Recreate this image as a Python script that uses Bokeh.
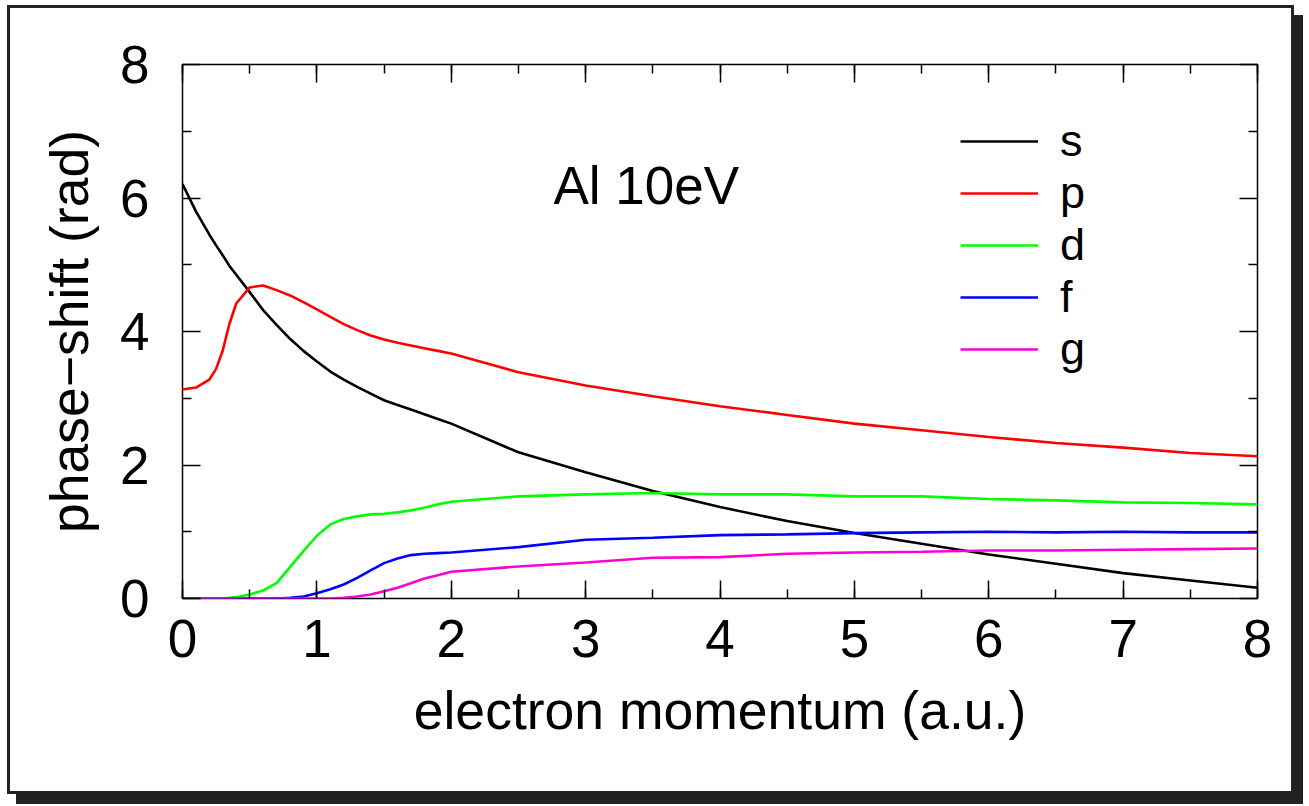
from bokeh.plotting import figure
from bokeh.models import LinearAxis, Legend, LegendItem, Label, Range1d, FixedTicker
from bokeh.embed import file_html
from bokeh.resources import INLINE

# momentum grid (a.u.)
k = [0.0, 0.1, 0.2, 0.25, 0.3, 0.35, 0.4, 0.5, 0.6, 0.7, 0.8, 0.9, 1.0, 1.1, 1.2, 1.3, 1.4,
     1.5, 1.6, 1.7, 1.8, 1.9, 2.0, 2.5, 3.0, 3.5, 4.0, 4.5, 5.0, 5.5, 6.0, 6.5, 7.0, 7.5, 8.0]

s_phase = [6.21, 5.80, 5.45, 5.29, 5.14, 4.98, 4.85, 4.59, 4.32, 4.10, 3.89, 3.71, 3.55, 3.40, 3.28, 3.17, 3.07,
           2.97, 2.90, 2.83, 2.76, 2.69, 2.62, 2.19, 1.89, 1.61, 1.37, 1.16, 0.98, 0.82, 0.66, 0.52, 0.38, 0.27, 0.16]
p_phase = [3.13, 3.16, 3.28, 3.44, 3.72, 4.12, 4.42, 4.66, 4.69, 4.62, 4.54, 4.44, 4.33, 4.22, 4.11, 4.02, 3.94,
           3.88, 3.83, 3.79, 3.75, 3.71, 3.67, 3.39, 3.19, 3.03, 2.88, 2.75, 2.62, 2.52, 2.42, 2.33, 2.26, 2.18, 2.13]
d_phase = [0.0, 0.0, 0.0, 0.0, 0.0, 0.01, 0.02, 0.06, 0.12, 0.23, 0.47, 0.71, 0.94, 1.11, 1.19, 1.23, 1.26,
           1.27, 1.29, 1.32, 1.36, 1.41, 1.45, 1.53, 1.56, 1.58, 1.56, 1.56, 1.53, 1.53, 1.49, 1.47, 1.44, 1.43, 1.41]
f_phase = [0.0, 0.0, 0.0, 0.0, 0.0, 0.0, 0.0, 0.0, 0.0, 0.0, 0.01, 0.03, 0.08, 0.14, 0.21, 0.31, 0.42,
           0.53, 0.60, 0.65, 0.67, 0.68, 0.69, 0.77, 0.88, 0.91, 0.95, 0.96, 0.98, 0.99, 1.00, 0.99, 1.00, 0.99, 0.99]
g_phase = [0.0, 0.0, 0.0, 0.0, 0.0, 0.0, 0.0, 0.0, 0.0, 0.0, 0.0, 0.0, 0.0, 0.0, 0.01, 0.03, 0.06,
           0.11, 0.16, 0.23, 0.30, 0.35, 0.40, 0.48, 0.54, 0.61, 0.62, 0.67, 0.69, 0.70, 0.72, 0.72, 0.73, 0.74, 0.75]

series_names = ["s", "p", "d", "f", "g"]
series_values = [s_phase, p_phase, d_phase, f_phase, g_phase]
series_colors = ["#000000", "#ff0000", "#00ff00", "#0000ff", "#ff00d4"]

x_ticks = [0, 1, 2, 3, 4, 5, 6, 7, 8]
x_minor = [0.5 * i for i in range(17)]
y_ticks = [0, 2, 4, 6, 8]
y_minor = [1, 3, 5, 7]

x_title = "electron momentum (a.u.)"
y_title = "phase\u2212shift (rad)"
annotation = "Al 10eV"

FONT = "Liberation Sans"

p = figure(width=1287, height=789, output_backend="svg", toolbar_location=None,
           x_range=Range1d(0, 8), y_range=Range1d(0, 8),
           min_border_left=172, min_border_right=40, min_border_top=56, min_border_bottom=199,
           x_axis_label=x_title, y_axis_label=y_title)
p.styles = {"border": "3px solid #222222", "box-shadow": "9px 10px 0px #222222",
            "margin-left": "7px", "margin-top": "5px"}
p.grid.visible = False
p.background_fill_color = "white"
p.border_fill_color = "white"
p.outline_line_color = "black"
p.outline_line_width = 1.5

def style_axis(ax, show_labels):
    ax.major_tick_in = 18
    ax.major_tick_out = 0
    ax.minor_tick_in = 9
    ax.minor_tick_out = 0
    ax.major_tick_line_width = 1.5
    ax.minor_tick_line_width = 1.5
    ax.axis_line_color = None
    ax.major_label_text_font = FONT
    ax.axis_label_text_font = FONT
    ax.axis_label_text_font_style = "normal"
    ax.major_label_text_font_size = "53px"
    ax.axis_label_text_font_size = "53.5px"
    ax.major_label_text_color = "black" if show_labels else None
    ax.axis_label_text_color = "black"

p.xaxis.ticker = FixedTicker(ticks=x_ticks, minor_ticks=x_minor)
p.yaxis.ticker = FixedTicker(ticks=y_ticks, minor_ticks=y_minor)
style_axis(p.xaxis[0], True)
style_axis(p.yaxis[0], True)
p.xaxis.major_label_standoff = 21
p.xaxis.axis_label_standoff = 21
p.yaxis.major_label_standoff = 33
p.yaxis.axis_label_standoff = 18

top = LinearAxis(ticker=FixedTicker(ticks=x_ticks, minor_ticks=x_minor))
right = LinearAxis(ticker=FixedTicker(ticks=y_ticks, minor_ticks=y_minor))
for ax in (top, right):
    style_axis(ax, False)
    ax.major_label_text_font_size = "0px"
    ax.major_label_standoff = 0
p.add_layout(top, "above")
p.add_layout(right, "right")

items = []
for name, vals, col in zip(series_names, series_values, series_colors):
    r = p.line(k, vals, line_color=col, line_width=2.6)
    items.append(LegendItem(label=name, renderers=[r]))

legend = Legend(items=items, location=(778, 223), orientation="vertical",
                glyph_width=78, glyph_height=30, label_standoff=22, spacing=0,
                padding=0, margin=0, border_line_color=None, background_fill_alpha=0,
                label_text_font=FONT, label_text_font_size="45px", label_text_color="black",
                label_height=30)
p.add_layout(legend)

p.add_layout(Label(x=2.76, y=6.18, text=annotation, text_font=FONT, text_font_size="53px",
                   text_color="black", text_baseline="alphabetic"))

open("out.html", "w").write(file_html(p, INLINE))
